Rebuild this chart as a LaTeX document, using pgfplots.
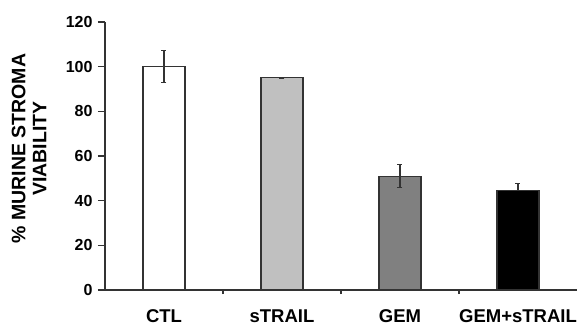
\documentclass[border=0pt]{standalone}
\usepackage{fontspec}
\setmainfont{Liberation Sans}
\usepackage{pgfplots}
\pgfplotsset{compat=1.18}
\definecolor{lgray}{HTML}{C0C0C0}
\definecolor{mgray}{HTML}{808080}
\definecolor{axgray}{HTML}{333333}
\begin{document}
\begin{tikzpicture}[x=1pt,y=1pt]
\useasboundingbox (0,0) rectangle (579,325);
\fill[white] (0,0) rectangle (579,325);
\begin{axis}[
  at={(105pt,35pt)}, anchor=south west,
  scale only axis, width=472pt, height=268pt,
  xmin=-0.5, xmax=3.5, ymin=0, ymax=120,
  axis x line=bottom, axis y line=left,
  axis line style={-, draw=axgray, line width=1.2pt},
  tick align=outside,
  ytick={0,20,...,120},
  major tick length=7pt,
  minor tick length=4pt,
  tick style={draw=axgray, line width=1.2pt},
  xtick={0,1,2,3},
  xticklabels={CTL,sTRAIL,GEM,GEM+sTRAIL},
  major x tick style={draw=none},
  minor xtick={0.5,1.5,2.5},
  /pgf/number format/assume math mode=true,
  yticklabel style={font=\fontsize{16}{16}\selectfont\bfseries, xshift=-2pt},
  xticklabel style={font=\fontsize{18.5}{18.5}\selectfont\bfseries, yshift=-9pt},
  ylabel={\% MURINE STROMA\\VIABILITY},
  ylabel style={at={(axis description cs:-0.1165,0.528)}, anchor=south, align=center, font=\fontsize{19.5}{21}\selectfont\bfseries},
  error bars/error bar style={draw=axgray, line width=1.1pt},
  error bars/error mark options={rotate=90, mark size=2.5pt, draw=axgray, line width=1.1pt},
]
\addplot[ybar, bar width=42pt, fill=white, draw=axgray, line width=1.2pt,
  error bars/.cd, y dir=both, y explicit] coordinates {(0,100) +- (0,7.2)};
\addplot[ybar, bar width=42pt, fill=lgray, draw=axgray, line width=1.2pt,
  error bars/.cd, y dir=both, y explicit] coordinates {(1,95) +- (0,0.3)};
\addplot[ybar, bar width=42pt, fill=mgray, draw=axgray, line width=1.2pt,
  error bars/.cd, y dir=both, y explicit] coordinates {(2,51) +- (0,5.3)};
\addplot[ybar, bar width=42pt, fill=black, draw=axgray, line width=1.2pt,
  error bars/.cd, y dir=plus, y explicit] coordinates {(3,44.5) +- (0,3.1)};
\end{axis}
\end{tikzpicture}
\end{document}
